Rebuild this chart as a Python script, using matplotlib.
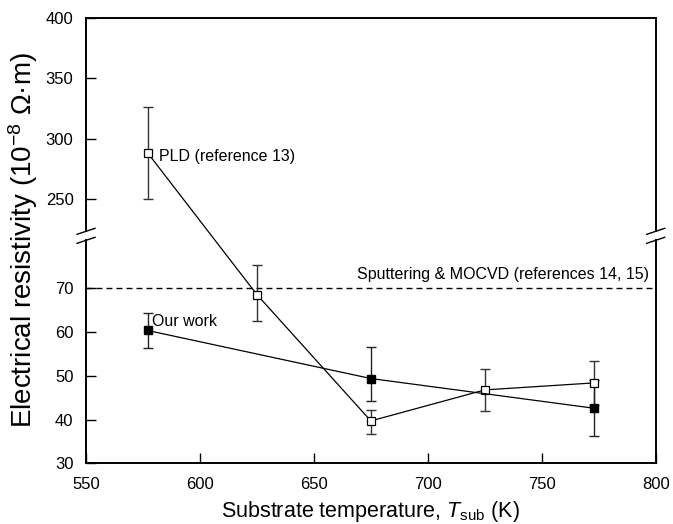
import numpy as np
import matplotlib
matplotlib.use("Agg")
import matplotlib.pyplot as plt
from matplotlib.lines import Line2D

plt.rcParams['font.family'] = ['Liberation Sans', 'DejaVu Sans']
plt.rcParams['mathtext.fontset'] = 'custom'
plt.rcParams['mathtext.rm'] = 'Liberation Sans'
plt.rcParams['mathtext.it'] = 'Liberation Sans:italic'

# Our work (filled squares)
T_our = [577, 675, 773]
rho_our = [60.4, 49.4, 42.6]
our_lo = [4.1, 5.2, 6.4]
our_hi = [4.1, 7.2, 6.4]

# PLD, reference 13 (open squares)
T_pld = [577, 625, 675, 725, 773]
rho_pld = [288.3, 68.6, 39.7, 46.8, 48.4]
pld_lo = [38.3, 6.1, 3.0, 4.9, 5.1]
pld_hi = [37.5, 6.7, 2.6, 4.8, 5.1]

# Sputtering & MOCVD level
rho_sput = 70

x_ticks = [550, 600, 650, 700, 750, 800]
y_ticks = [30, 40, 50, 60, 70, 250, 300, 350, 400]

# broken y axis: lower part up to B1, upper part from B2, compressed by K
B1, B2, K = 82.0, 219.4, 0.2766


def fwd(y):
    y = np.asarray(y, dtype=float)
    return np.where(y <= B1, y, np.where(y >= B2, B1 + (y - B2) * K, B1))


def inv(v):
    v = np.asarray(v, dtype=float)
    return np.where(v <= B1, v, B2 + (v - B1) / K)


fig = plt.figure(figsize=(6.73, 5.24), dpi=100)
ax = fig.add_axes([0.1278, 0.1158, 0.8465, 0.8504])
ax.set_yscale('function', functions=(fwd, inv))

ax.axhline(rho_sput, color='black', lw=1.0, dashes=(4.3, 2.9))

ax.errorbar(T_pld, rho_pld, yerr=[pld_lo, pld_hi], fmt='none', ecolor='#333333',
            elinewidth=1.0, capsize=3.5, capthick=1.0, zorder=2)
ax.errorbar(T_our, rho_our, yerr=[our_lo, our_hi], fmt='none', ecolor='#222222',
            elinewidth=1.0, capsize=3.5, capthick=1.0, zorder=2)
ax.plot(T_pld, rho_pld, color='black', lw=0.9, marker='s', ms=5.5,
        mfc='white', mec='black', mew=0.9, zorder=3)
ax.plot(T_our, rho_our, color='black', lw=0.9, marker='s', ms=5.5,
        mfc='black', mec='black', zorder=3)

ax.text(582, 285, 'PLD (reference 13)', fontsize=11.5, va='center', ha='left')
ax.text(579, 62.4, 'Our work', fontsize=11.5, va='center', ha='left')
ax.text(797, 73.3, 'Sputtering & MOCVD (references 14, 15)', fontsize=11.5,
        va='center', ha='right')

ax.set_xlim(550, 800)
ax.set_ylim(30, 400)
ax.set_xticks(x_ticks)
ax.set_yticks(y_ticks)
ax.minorticks_off()
ax.tick_params(direction='in', length=7, width=1.0, labelsize=12)
ax.tick_params(axis='x', pad=10)
ax.tick_params(axis='y', pad=9)

ax.set_xlabel(r'Substrate temperature, $T_{\rm sub}$ (K)', fontsize=15.5, labelpad=5)
ax.set_ylabel(r'Electrical resistivity (10$^{-8}$ Ω·m)', fontsize=20, labelpad=4)

# spines: draw left/right by hand with a gap and break marks
for s in ['top', 'bottom']:
    ax.spines[s].set_linewidth(1.4)
ax.spines['left'].set_visible(False)
ax.spines['right'].set_visible(False)

ax_h = 445.6
ax_w = 569.7
g_lo = (463.3 - 240.3) / ax_h
g_hi = (463.3 - 231.3) / ax_h
dx = 9 / ax_w
dy = 3 / ax_h
for xs in [0, 1]:
    for y0, y1 in [(0, g_lo), (g_hi, 1)]:
        ax.add_line(Line2D([xs, xs], [y0, y1], transform=ax.transAxes,
                           color='black', lw=1.4, clip_on=False))
    for yc in [g_lo, g_hi]:
        ax.add_line(Line2D([xs - dx, xs + dx], [yc - dy, yc + dy],
                           transform=ax.transAxes, color='black', lw=1.0,
                           clip_on=False))

fig.savefig('out.png', dpi=100)
